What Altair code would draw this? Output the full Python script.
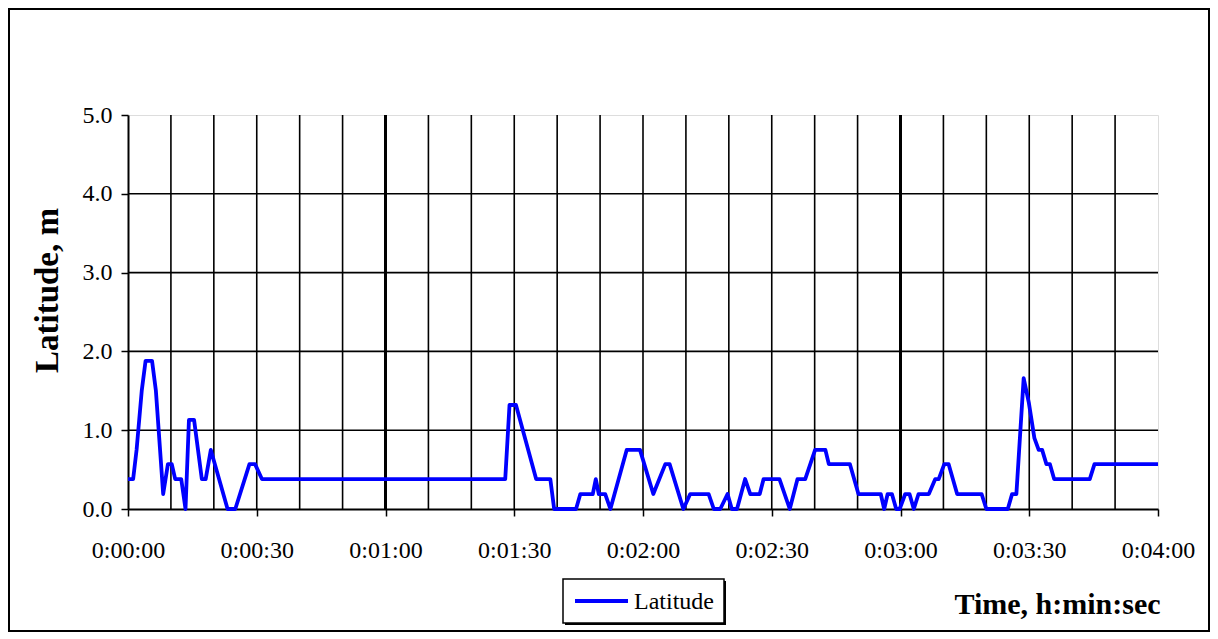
import altair as alt
import pandas as pd

# ---- data (time in seconds, latitude in m) ----
time_s = [0, 1.2, 2.0, 3.2, 4.1, 5.6, 6.5, 8.2, 9.3, 10.2, 11.0, 12.4, 13.4, 14.2, 15.4,
          17.2, 18.1, 19.3, 23.2, 25.0, 28.3, 29.6, 31.2, 87.9, 88.9, 90.4, 95.1, 98.4,
          99.3, 104.4, 105.4, 108.3, 109.0, 109.7, 111.2, 112.4, 116.2, 119.3, 122.4,
          125.2, 126.2, 129.4, 131.0, 135.3, 136.5, 138.0, 139.7, 140.7, 141.9, 143.8,
          145.0, 147.2, 148.1, 151.8, 154.2, 156.0, 157.8, 160.1, 162.5, 163.3, 168.2,
          170.2, 175.4, 176.2, 177.0, 178.0, 179.0, 179.8, 181.1, 182.1, 183.1, 184.2,
          186.6, 188.1, 188.9, 190.2, 191.2, 193.2, 198.9, 200.0, 205.0, 206.0, 207.0,
          208.7, 209.9, 211.2, 212.2, 213.0, 214.0, 214.8, 215.8, 224.1, 225.2, 240.0]
latitude = [0.38, 0.38, 0.75, 1.50, 1.88, 1.88, 1.50, 0.19, 0.57, 0.57, 0.38, 0.38, 0.00, 1.13, 1.13,
            0.38, 0.38, 0.75, 0.00, 0.00, 0.57, 0.57, 0.38, 0.38, 1.32, 1.32, 0.38, 0.38,
            0.00, 0.00, 0.19, 0.19, 0.38, 0.19, 0.19, 0.00, 0.75, 0.75, 0.19,
            0.57, 0.57, 0.00, 0.19, 0.19, 0.00, 0.00, 0.19, 0.00, 0.00, 0.38,
            0.19, 0.19, 0.38, 0.38, 0.00, 0.38, 0.38, 0.75, 0.75, 0.57, 0.57,
            0.19, 0.19, 0.00, 0.19, 0.19, 0.00, 0.00, 0.19, 0.19, 0.00, 0.19,
            0.19, 0.38, 0.38, 0.57, 0.57, 0.19, 0.19, 0.00, 0.00, 0.19, 0.19,
            1.66, 1.35, 0.90, 0.75, 0.75, 0.57, 0.57, 0.38, 0.38, 0.57, 0.57]

x_ticks = [0, 30, 60, 90, 120, 150, 180, 210, 240]
x_grid_thin = [10, 20, 30, 40, 50, 70, 80, 90, 100, 110, 120, 130, 140, 150, 160, 170,
               190, 200, 210, 220, 230]
x_grid_thick = [60, 180]
y_ticks = [0, 1, 2, 3, 4, 5]
y_grid = [1, 2, 3, 4]
series_name = "Latitude"

FONT = "Liberation Serif"

df = pd.DataFrame({"t": time_s, "lat": latitude})

xscale = alt.Scale(domain=[0, 240], nice=False)
yscale = alt.Scale(domain=[0, 5], nice=False)

label_expr = ("'0:0' + floor(datum.value/60) + ':' + "
              "(datum.value % 60 < 10 ? '0' : '') + (datum.value % 60)")

x_axis = alt.Axis(values=x_ticks, labelExpr=label_expr, grid=False,
                  tickSize=7, tickColor="black", tickWidth=1.5,
                  domainColor="black", domainWidth=2,
                  labelFont=FONT, labelFontSize=24, labelColor="black",
                  labelBaseline="alphabetic", labelPadding=41,
                  labelFlush=False, labelOverlap=False,
                  title="Time, h:min:sec", titleFont=FONT, titleFontSize=30,
                  titleFontWeight="bold", titleColor="black",
                  titleX=929, titleY=104, titleAlign="center",
                  titleBaseline="alphabetic", titleAnchor="start")
y_axis = alt.Axis(values=y_ticks, format=".1f", grid=False,
                  tickSize=7, tickColor="black", tickWidth=1.5,
                  domainColor="black", domainWidth=2,
                  labelFont=FONT, labelFontSize=24, labelColor="black",
                  labelPadding=9, labelFlush=False, labelOverlap=False,
                  title="Latitude, m", titleFont=FONT, titleFontSize=33,
                  titleFontWeight="bold", titleColor="black",
                  titleAngle=-90, titleX=-81, titleY=175,
                  titleAlign="center", titleBaseline="middle",
                  titleAnchor="start")

# outer frame
frame = alt.Chart(alt.Data(values=[{}])).mark_rect(
    fill="white", fillOpacity=0, stroke="black", strokeWidth=2
).encode(x=alt.value(-119), x2=alt.value(1081), y=alt.value(-106), y2=alt.value(516))

vgrid = alt.Chart(pd.DataFrame({"t": x_grid_thin})).mark_rule(
    color="black", strokeWidth=1.6
).encode(x=alt.X("t:Q", scale=xscale, axis=x_axis))

vgrid2 = alt.Chart(pd.DataFrame({"t": x_grid_thick})).mark_rule(
    color="black", strokeWidth=3
).encode(x=alt.X("t:Q", scale=xscale, axis=x_axis))

hgrid = alt.Chart(pd.DataFrame({"lat": y_grid})).mark_rule(
    color="black", strokeWidth=1.6
).encode(y=alt.Y("lat:Q", scale=yscale, axis=y_axis))

line = alt.Chart(df).mark_line(color="#0000FF", strokeWidth=3.8, strokeJoin="round").encode(
    x=alt.X("t:Q", scale=xscale, axis=x_axis),
    y=alt.Y("lat:Q", scale=yscale, axis=y_axis),
)

# legend (drawn as in the original Excel chart)
leg_shadow = alt.Chart(alt.Data(values=[{}])).mark_rect(fill="black").encode(
    x=alt.value(437), x2=alt.value(598), y=alt.value(466), y2=alt.value(510))
leg_box = alt.Chart(alt.Data(values=[{}])).mark_rect(
    fill="white", stroke="black", strokeWidth=1.5).encode(
    x=alt.value(435), x2=alt.value(596), y=alt.value(464), y2=alt.value(508))
leg_line = alt.Chart(alt.Data(values=[{}])).mark_rule(color="#0000FF", strokeWidth=3.8).encode(
    x=alt.value(447), x2=alt.value(500), y=alt.value(486))
leg_text = alt.Chart(alt.Data(values=[{"name": series_name}])).mark_text(
    font=FONT, fontSize=24, color="black", align="left", baseline="middle"
).encode(x=alt.value(506), y=alt.value(487), text="name:N")

chart = alt.layer(
    frame, vgrid, vgrid2, hgrid, line, leg_shadow, leg_box, leg_line, leg_text
).properties(
    width=1030, height=394,
    autosize=alt.AutoSizeParams(type="none"),
    padding={"left": 120, "top": 107, "right": 52, "bottom": 123},
).configure_view(
    stroke="#808080", strokeWidth=1.5
).configure(background="white")

chart.save("out.html", embed_options={"renderer": "svg", "actions": False})
